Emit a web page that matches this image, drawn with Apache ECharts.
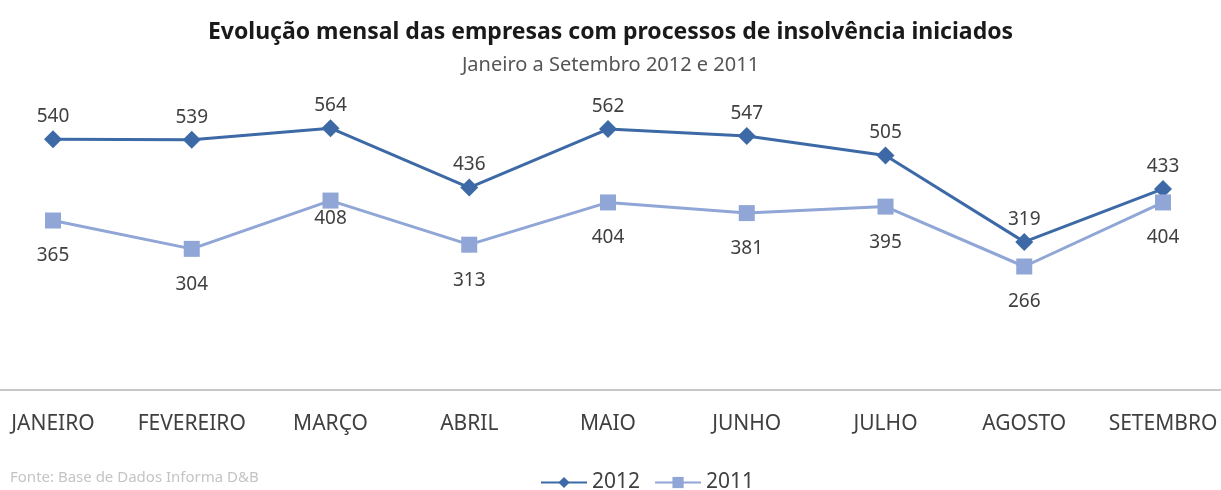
<!DOCTYPE html>
<html><head><meta charset="utf-8">
<script src="https://cdn.jsdelivr.net/npm/echarts@6/dist/echarts.min.js"></script>
<style>html,body{margin:0;padding:0;background:#fff}#c{width:1221px;height:490px}</style>
</head><body><div id="c"></div>
<script>
const categories = ["JANEIRO","FEVEREIRO","MARÇO","ABRIL","MAIO","JUNHO","JULHO","AGOSTO","SETEMBRO"];
const values2012 = [540,539,564,436,562,547,505,319,433];
const values2011 = [365,304,408,313,404,381,395,266,404];
const seriesNames = ["2012","2011"];

const FONT = "Noto Sans";
const c2012 = "#3d6aa6", c2011 = "#90a6d6";
const catIdx = categories.map((c,i)=>i);
const chart = echarts.init(document.getElementById('c'));
chart.setOption({
  animation:false,
  backgroundColor:'#fff',
  textStyle:{fontFamily:FONT},
  title:[
    {text:"Evolução mensal das empresas com processos de insolvência iniciados",left:'center',top:16,
     textStyle:{fontFamily:FONT,fontSize:23,fontWeight:'bold',color:'#1a1a1a'}},
    {text:"Janeiro a Setembro 2012 e 2011",left:'center',top:50,
     textStyle:{fontFamily:FONT,fontSize:20,fontWeight:'normal',color:'#555'}},
    {text:"Fonte: Base de Dados Informa D&B",left:10,top:470,padding:0,
     textStyle:{fontFamily:FONT,fontSize:15,fontWeight:'normal',color:'#c4c4c4'}}
  ],
  legend:{top:467,left:535,itemWidth:46,itemHeight:14,itemGap:14,
    textStyle:{fontFamily:FONT,fontSize:21,color:'#404040'},
    data:seriesNames},
  grid:{left:0,right:0,top:65,bottom:100,containLabel:false},
  xAxis:{type:'value',min:-0.382,max:8.418,
    splitLine:{show:false},
    axisLine:{lineStyle:{color:'#c8c8c8',width:2}},axisTick:{show:false},
    axisLabel:{customValues:catIdx,formatter:v=>categories[Math.round(v)],
      margin:24,fontFamily:FONT,fontSize:21,color:'#404040'}},
  yAxis:{type:'value',min:0,max:700,show:false,splitLine:{show:false}},
  series:[
    {name:seriesNames[0],type:'line',data:values2012.map((v,i)=>[i,v]),symbol:'diamond',symbolSize:18,
     lineStyle:{color:c2012,width:3},itemStyle:{color:c2012},
     label:{show:true,position:'top',distance:4,fontFamily:FONT,fontSize:19,color:'#404040',
       formatter:p=>p.value[1]}},
    {name:seriesNames[1],type:'line',data:values2011.map((v,i)=>i===2?{value:[i,v],label:{distance:1}}:[i,v]),
     symbol:'rect',symbolSize:16,
     lineStyle:{color:c2011,width:3},itemStyle:{color:c2011},
     label:{show:true,position:'bottom',distance:18,fontFamily:FONT,fontSize:19,color:'#404040',
       formatter:p=>p.value[1]}}
  ]
});
</script></body></html>
